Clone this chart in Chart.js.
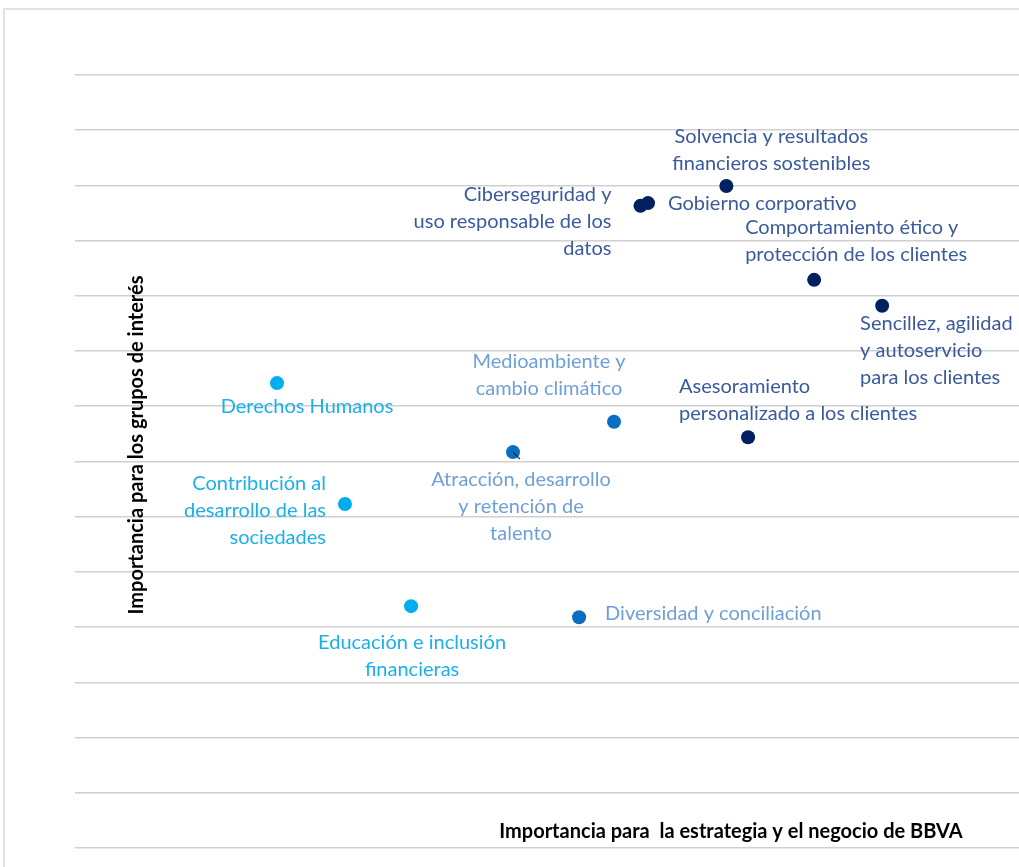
<!DOCTYPE html>
<html>
<head>
<meta charset="utf-8">
<script src="https://cdn.jsdelivr.net/npm/chart.js@4/dist/chart.umd.min.js"></script>
<style>
  html, body { margin: 0; padding: 0; background: #fff; }
  #wrap { width: 1019px; height: 867px; }
</style>
</head>
<body>
<div id="wrap"><canvas id="materialidad"></canvas></div>
<script>
// Matriz de materialidad BBVA: importancia para la estrategia (x) frente a
// importancia para los grupos de interés (y)

// temas de cliente / negocio (azul oscuro)
const temasNegocio = [
  ['Solvencia y resultados', 'financieros sostenibles'],
  ['Gobierno corporativo'],
  ['Ciberseguridad y', 'uso responsable de los', 'datos'],
  ['Comportamiento ético y', 'protección de los clientes'],
  ['Sencillez, agilidad', 'y autoservicio', 'para los clientes'],
  ['Asesoramiento', 'personalizado a los clientes']
];
const negocioX = [6.90, 6.07, 5.99, 7.83, 8.55, 7.13];
const negocioY = [11.99, 11.68, 11.63, 10.29, 9.82, 7.44];

// temas de personas / entorno (azul medio)
const temasEntorno = [
  ['Medioambiente y', 'cambio climático'],
  ['Atracción, desarrollo', 'y retención de', 'talento'],
  ['Diversidad y conciliación']
];
const entornoX = [5.71, 4.64, 5.34];
const entornoY = [7.72, 7.17, 4.18];

// temas sociales (azul claro)
const temasSociales = [
  ['Derechos Humanos'],
  ['Contribución al', 'desarrollo de las', 'sociedades'],
  ['Educación e inclusión', 'financieras']
];
const socialesX = [2.14, 2.86, 3.56];
const socialesY = [8.42, 6.23, 4.38];

const tituloX = 'Importancia para  la estrategia y el negocio de BBVA';
const tituloY = 'Importancia para los grupos de interés';

// donde va cada etiqueta respecto a su punto (px)
const colocacion = {
  'Solvencia y resultados': { align: 'center', dx: 45, dy: -49 },
  'Gobierno corporativo': { align: 'left', dx: 20, dy: 0 },
  'Ciberseguridad y': { align: 'right', dx: -29, dy: -11 },
  'Comportamiento ético y': { align: 'left', dx: -69, dy: -52 },
  'Sencillez, agilidad': { align: 'left', dx: -22, dy: 18 },
  'Asesoramiento': { align: 'left', dx: -69, dy: -51 },
  'Medioambiente y': { align: 'center', dx: -65, dy: -60 },
  'Atracción, desarrollo': { align: 'center', dx: 8, dy: 27, guia: true },
  'Diversidad y conciliación': { align: 'left', dx: 26, dy: -4 },
  'Derechos Humanos': { align: 'center', dx: 30, dy: 23 },
  'Contribución al': { align: 'right', dx: -19, dy: -20 },
  'Educación e inclusión': { align: 'center', dx: 1, dy: 36 }
};

function puntos(xs, ys) {
  return xs.map((x, i) => ({ x: x, y: ys[i] }));
}

const etiquetasPlugin = {
  id: 'etiquetas',
  beforeDraw(chart) {
    const ctx = chart.ctx;
    ctx.save();
    ctx.strokeStyle = '#d9d9d9';
    ctx.lineWidth = 1.5;
    ctx.strokeRect(4, 9, 1200, 1000);
    ctx.restore();
  },
  afterDatasetsDraw(chart) {
    const ctx = chart.ctx;
    ctx.save();
    ctx.font = '20px Lato, "Open Sans", sans-serif';
    ctx.textBaseline = 'middle';
    chart.data.datasets.forEach((ds, di) => {
      const meta = chart.getDatasetMeta(di);
      ds.temas.forEach((lineas, i) => {
        const p = meta.data[i];
        const c = colocacion[lineas[0]];
        if (c.guia) {
          ctx.strokeStyle = '#222';
          ctx.lineWidth = 1.2;
          ctx.beginPath();
          ctx.moveTo(p.x, p.y);
          ctx.lineTo(p.x + 7, p.y + 7);
          ctx.stroke();
        }
        ctx.fillStyle = ds.colorTexto;
        ctx.textAlign = c.align;
        lineas.forEach((t, k) => {
          ctx.fillText(t, p.x + c.dx, p.y + c.dy + k * 27);
        });
      });
    });
    ctx.restore();
  },
  afterDraw(chart) {
    const ctx = chart.ctx;
    ctx.save();
    ctx.fillStyle = '#000';
    ctx.font = 'bold 20px Lato, "Open Sans", sans-serif';
    ctx.textBaseline = 'middle';
    ctx.textAlign = 'center';
    ctx.fillText(tituloX, 731, 832);
    ctx.translate(137, 445);
    ctx.rotate(-Math.PI / 2);
    ctx.fillText(tituloY, 0, 0);
    ctx.restore();
  }
};

new Chart(document.getElementById('materialidad'), {
  type: 'scatter',
  data: {
    datasets: [{
      label: 'Negocio',
      data: puntos(negocioX, negocioY),
      temas: temasNegocio,
      backgroundColor: '#002060',
      colorTexto: '#3a5a9c',
      pointRadius: 7,
      pointHoverRadius: 7,
      borderWidth: 0
    }, {
      label: 'Entorno',
      data: puntos(entornoX, entornoY),
      temas: temasEntorno,
      backgroundColor: '#0a6fc2',
      colorTexto: '#6f9fd8',
      pointRadius: 7,
      pointHoverRadius: 7,
      borderWidth: 0
    }, {
      label: 'Sociales',
      data: puntos(socialesX, socialesY),
      temas: temasSociales,
      backgroundColor: '#00adef',
      colorTexto: '#1ab0ea',
      pointRadius: 7,
      pointHoverRadius: 7,
      borderWidth: 0
    }]
  },
  options: {
    responsive: true,
    maintainAspectRatio: false,
    animation: false,
    layout: { autoPadding: false, padding: { left: 75, top: 75, right: 0, bottom: 19 } },
    plugins: {
      legend: { display: false },
      tooltip: { enabled: false }
    },
    scales: {
      x: {
        type: 'linear',
        min: 0,
        max: 10,
        display: false
      },
      y: {
        min: 0,
        max: 14,
        ticks: { display: false, stepSize: 1 },
        border: { display: false },
        grid: { color: '#d0d0d0', lineWidth: 1.6, drawTicks: false }
      }
    }
  },
  plugins: [etiquetasPlugin]
});
</script>
</body>
</html>
